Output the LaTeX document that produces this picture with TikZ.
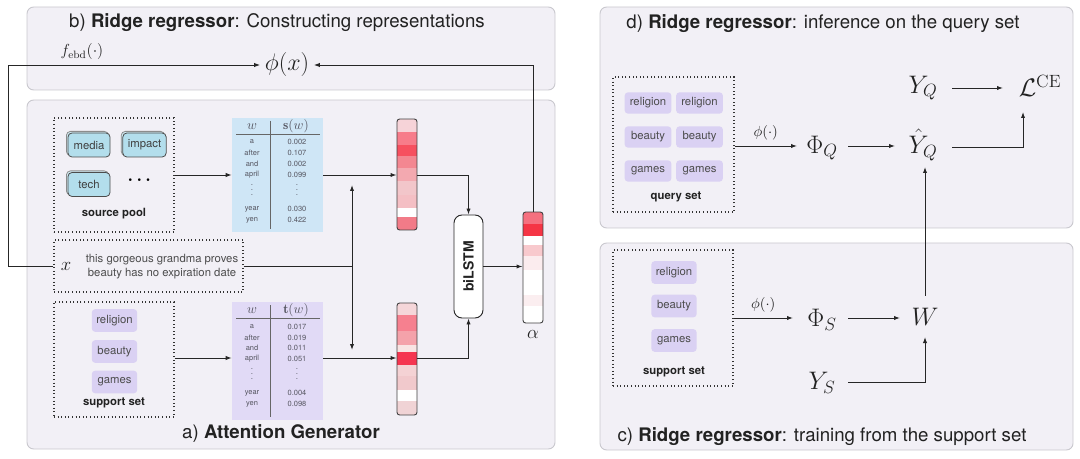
\RequirePackage{fix-cm}
\documentclass[tikz,border=0pt]{standalone}
\usepackage{amsmath}
\usepackage{fontspec}
\setsansfont{TeX Gyre Heros}
\usetikzlibrary{arrows.meta,fit,shadows,calc}
\definecolor{panelfill}{HTML}{F2F0F6}
\definecolor{panelborder}{HTML}{C9C8CE}
\definecolor{srcfill}{HTML}{B3DEEC}
\definecolor{purfill}{HTML}{DAD1F3}
\definecolor{stabfill}{HTML}{CFE6F6}
\definecolor{ttabfill}{HTML}{E1DAF6}
\definecolor{inkc}{HTML}{222222}
\definecolor{tabtext}{HTML}{555560}
\begin{document}
\begin{tikzpicture}[x=0.75pt,y=-0.75pt,font=\sffamily,
  panel/.style={draw=panelborder,fill=panelfill,rounded corners=5pt,line width=0.7pt,inner sep=0pt},
  dotbox/.style={draw=black!80,dash pattern=on 0.8pt off 1.9pt,line width=0.8pt,inner sep=0pt},
  arr/.style={-{Latex[length=4.5pt,width=3.2pt]},line width=0.7pt,draw=black!85},
  plain/.style={line width=0.7pt,draw=black!85},
  ttl/.style={font=\fontsize{14}{16}\selectfont\sffamily,text=inkc},
  srcword/.style={draw=black!70,line width=0.6pt,fill=srcfill,rounded corners=3pt,
     minimum width=31.5pt,minimum height=18pt,inner sep=0pt,font=\fontsize{8.5}{10}\selectfont\sffamily,text=black!75,
     copy shadow={shadow xshift=-1.2pt,shadow yshift=1.2pt,fill=srcfill!60,draw=black!45}},
  purword/.style={fill=purfill,rounded corners=2.5pt,minimum width=34pt,minimum height=17pt,inner sep=0pt,
     font=\fontsize{8.5}{10}\selectfont\sffamily,text=black!70},
  qword/.style={purword,minimum width=35pt,minimum height=16pt},
  setlabel/.style={font=\fontsize{8.5}{10}\selectfont\sffamily\bfseries,text=inkc},
  tabtxt/.style={font=\fontsize{5.6}{6}\selectfont\sffamily,text=tabtext,inner sep=0pt},
  tabhead/.style={font=\fontsize{10}{11}\selectfont,text=tabtext,inner sep=0pt},
  tabdots/.style={font=\fontsize{6}{3.6}\selectfont\sffamily,text=tabtext,inner sep=0pt,align=center},
  bigmath/.style={font=\fontsize{19}{22}\selectfont,text=inkc},
  barbox/.style={draw=black!75,line width=0.7pt,rounded corners=2pt,inner sep=0pt}
]
\useasboundingbox (0,0) rectangle (1080,459);

% ---------- panels ----------
\node[panel,fit={(27,7)(555,90)}] (pb) {};
\node[panel,fit={(27,100)(555,449)}] (pa) {};
\node[panel,fit={(600,7)(1073,228)}] (pd) {};
\node[panel,fit={(600,243)(1073,450)}] (pc) {};

\node[ttl] (tb) at (277,23) {b)\ \textbf{Ridge regressor}: Constructing representations};
\node[ttl] (ta) at (281,434) {a)\ \textbf{Attention Generator}};
\node[ttl] (td) at (823,24) {d)\ \textbf{Ridge regressor}: inference on the query set};
\node[ttl] (tc) at (822,437) {c)\ \textbf{Ridge regressor}: training from the support set};

% ---------- panel b ----------
\node[font=\fontsize{12}{14}\selectfont,text=inkc] (febd) at (82,52) {$f_{\mathrm{ebd}}(\cdot)$};
\node[font=\fontsize{18}{20}\selectfont,text=inkc] (phix) at (287,65) {$\phi(x)$};

% ---------- panel a : source pool ----------
\node[dotbox,fit={(54,118)(174,232)}] (pool) {};
\node[srcword] (wmedia) at (89,145) {media};
\node[srcword,minimum width=32.5pt] (wimpact) at (144.5,145) {impact};
\node[srcword] (wtech) at (89,184.5) {tech};
\node[font=\fontsize{13}{13}\selectfont,text=black] (wdots) at (141,180) {$\boldsymbol{\cdots}$};
\node[setlabel] (lpool) at (114,214) {source pool};

% table s
\node[fill=stabfill,inner sep=0pt,fit={(232,118)(323,232)}] (stab) {};
\draw[draw=black!60,line width=0.5pt] (270,121) -- (270,229);
\draw[draw=black!60,line width=0.5pt] (236,134) -- (320,134);
\node[tabhead] (sh1) at (252,127) {$w$};
\node[tabhead] (sh2) at (296,126.5) {$\mathbf{s}(w)$};
\foreach \w/\v/\yy in {a/0.002/142,after/0.107/153,and/0.002/164,april/0.099/175,year/0.030/209,yen/0.422/220}{
  \node[tabtxt] (s-\w-w) at (252,\yy) {\w};
  \node[tabtxt] (s-\w-v) at (297,\yy) {\v};
}
\node[tabdots] (sdl) at (252,190) {.\\.\\.};
\node[tabdots] (sdr) at (297,190) {.\\.\\.};

% x box
\node[dotbox,fit={(54,240)(243,292)}] (xbox) {};
\node[font=\fontsize{14}{16}\selectfont,text=inkc] (xlab) at (66,266) {$x$};
\node[font=\fontsize{8.5}{10.5}\selectfont\sffamily,text=black!70,align=center] (sent) at (162,267) {this gorgeous grandma proves\\beauty has no expiration date};

% support set (left)
\node[dotbox,fit={(54,302)(174,417)}] (supl) {};
\node[purword] (lrel) at (114.5,320.5) {religion};
\node[purword] (lbea) at (114.5,351.5) {beauty};
\node[purword] (lgam) at (114.5,382) {games};
\node[setlabel] (lsup) at (114,403) {support set};

% table t
\node[fill=ttabfill,inner sep=0pt,fit={(232,302)(323,420)}] (ttab) {};
\draw[draw=black!60,line width=0.5pt] (270,305) -- (270,417);
\draw[draw=black!60,line width=0.5pt] (236,318) -- (320,318);
\node[tabhead] (th1) at (252,311) {$w$};
\node[tabhead] (th2) at (296,310.5) {$\mathbf{t}(w)$};
\foreach \w/\v/\yy in {a/0.017/327,after/0.019/337.5,and/0.011/348,april/0.051/358.5,year/0.004/393,yen/0.098/404}{
  \node[tabtxt] (t-\w-w) at (252,\yy) {\w};
  \node[tabtxt] (t-\w-v) at (297,\yy) {\v};
}
\node[tabdots] (tdl) at (252,374) {.\\.\\.};
\node[tabdots] (tdr) at (297,374) {.\\.\\.};

% heat bars
\begin{scope}
\clip[rounded corners=2pt] (397,119) rectangle (417,230);
\foreach \ya/\yb/\c in {119/132/F6D3D8,132/145/F77C8A,145/156/F6505F,156/168/F38791,168/181/F3A9B0,181/195/F2C6CA,195/208/F4BFC4,208/217/FFFFFF,217/230/F27B88}{
  \definecolor{segc}{HTML}{\c}\fill[segc] (397,\ya) rectangle (417,\yb);}
\end{scope}
\node[barbox,fit={(397,119)(417,230)}] (bartop) {};

\begin{scope}
\clip[rounded corners=2pt] (397,303) rectangle (417,415);
\foreach \ya/\yb/\c in {303/315/F5D6D9,315/331/F6808F,331/345/F4A2AA,345/352/F8E4E3,352/365/F53550,365/376/F4D2D4,376/390/F1C9CC,390/401/FFFFFF,401/415/F0D3D5}{
  \definecolor{segc}{HTML}{\c}\fill[segc] (397,\ya) rectangle (417,\yb);}
\end{scope}
\node[barbox,fit={(397,303)(417,415)}] (barbot) {};

\begin{scope}
\clip[rounded corners=2pt] (523,212) rectangle (543,323);
\foreach \ya/\yb/\c in {212/224/F5707F,224/236/F53545,236/245/FFFFFF,245/256/F8C9CD,256/270/FBECEE,270/295/FFFFFF,295/306/FBEEF0,306/323/FFFFFF}{
  \definecolor{segc}{HTML}{\c}\fill[segc] (523,\ya) rectangle (543,\yb);}
\end{scope}
\node[barbox,fit={(523,212)(543,323)}] (alpha) {};
\node[font=\fontsize{14}{16}\selectfont,text=inkc] (alab) at (533,334) {$\alpha$};

% biLSTM
\node[draw=black!85,fill=white,line width=0.7pt,rounded corners=6pt,inner sep=0pt,fit={(454,215)(483,318)}] (lstm) {};
\node[rotate=90,font=\fontsize{10.5}{12}\selectfont\sffamily\bfseries,text=inkc] (lstmtxt) at (lstm.center) {biLSTM};

% connectors panel a / b
\coordinate (lft) at (8,266);
\draw[arr] (xbox.west) -- (lft) |- (phix.west);
\draw[arr] (alpha.north) |- (phix.east);
\draw[arr] (pool.east) -- (stab.west |- pool.east);
\draw[arr] (supl.east |- 0,358) -- (ttab.west |- 0,358);
\draw[arr] (stab.east) -- (bartop.west |- stab.east);
\draw[arr] (ttab.east |- 0,358) -- (barbot.west |- 0,358);
\draw[arr] (bartop.east |- stab.east) -| (lstm.north);
\draw[arr] (barbot.east |- 0,358) -| (lstm.south);
\draw[arr] (lstm.east) -- (alpha.west |- lstm.east);
\coordinate (vtop) at (352,185);
\coordinate (vbot) at (352,350);
\draw[plain] (xbox.east |- 0,266) -- (352,266);
\draw[{Latex[length=4.5pt,width=3.2pt]}-{Latex[length=4.5pt,width=3.2pt]},line width=0.7pt,draw=black!85] (vtop) -- (vbot);

% ---------- panel d ----------
\node[dotbox,fit={(613,77)(734,212)}] (qset) {};
\node[qword] (q1) at (648,103) {religion};
\node[qword] (q2) at (699.5,103) {religion};
\node[qword] (q3) at (648,137) {beauty};
\node[qword] (q4) at (699.5,137) {beauty};
\node[qword] (q5) at (648,171) {games};
\node[qword] (q6) at (699.5,171) {games};
\node[setlabel] (lq) at (676,197) {query set};

\node[bigmath] (phiq) at (822,148) {$\Phi_Q$};
\node[bigmath] (yqhat) at (923,145) {$\hat{Y}_Q$};
\node[bigmath] (yq) at (923,88) {$Y_Q$};
\node[bigmath] (lce) at (1040,86) {$\mathcal{L}^{\mathrm{CE}}$};
\draw[arr] (qset.east |- 0,146) -- node[above=1pt,font=\fontsize{11}{12}\selectfont,text=inkc] (phidq) {$\phi(\cdot)$} (797,146);
\draw[arr] (848,146) -- (895,146);
\draw[arr] (952,88) -- (1003,88);
\draw[arr] (952,147) -| (1023,112);

% ---------- panel c ----------
\node[dotbox,fit={(613,250)(733,386)}] (sset) {};
\node[purword] (s1) at (674,272.5) {religion};
\node[purword] (s2) at (674,306) {beauty};
\node[purword] (s3) at (674,340.5) {games};
\node[setlabel] (ls) at (674,372) {support set};

\node[bigmath] (phis) at (822,320) {$\Phi_S$};
\node[bigmath] (wmat) at (925,317) {$W$};
\node[bigmath] (ys) at (822,383) {$Y_S$};
\draw[arr] (sset.east |- 0,318) -- node[above=1pt,font=\fontsize{11}{12}\selectfont,text=inkc] (phids) {$\phi(\cdot)$} (793,318);
\draw[arr] (848,318) -- (900,318);
\draw[arr] (848,382) -| (925,337);
\draw[arr] (925,296) -- (925,167);
\end{tikzpicture}
\end{document}
